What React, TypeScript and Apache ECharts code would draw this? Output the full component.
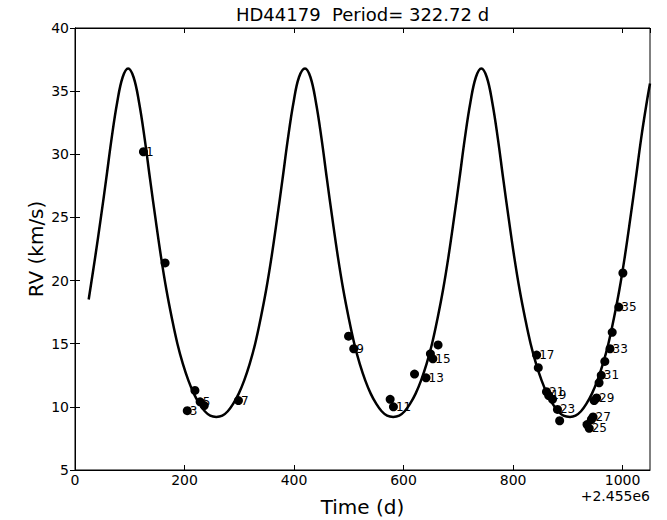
import React, { useEffect, useRef } from "react";
import * as echarts from "echarts";

const chartTitle = "HD44179  Period= 322.72 d";
const xAxisName = "Time (d)";
const yAxisName = "RV (km/s)";
const offsetText = "+2.455e6";

// Observed radial velocities (time offset from 2455000 d, RV in km/s)
const obsTime = [125, 164.5, 205, 219, 228.5, 236, 298.5, 499.5, 509, 575.5, 581.5, 620, 641, 649, 653.5, 663, 843, 846, 865, 872, 861, 885, 881, 935, 939, 943, 946, 948, 952.5, 957, 961, 967.5, 977, 981, 993, 1000.5];
const obsRV = [30.2, 21.4, 9.7, 11.3, 10.4, 10.1, 10.5, 15.6, 14.6, 10.6, 10.0, 12.6, 12.3, 14.2, 13.8, 14.9, 14.1, 13.1, 10.9, 10.6, 11.2, 8.9, 9.8, 8.6, 8.3, 9.0, 9.2, 10.5, 10.7, 11.9, 12.5, 13.6, 14.6, 15.9, 17.9, 20.6];

// Orbit model curve
const curveTime = [25, 37, 47, 57, 67, 77, 87, 97, 107, 117, 127, 137, 147, 157, 167, 177, 187, 197, 207, 217, 227, 237, 247, 258, 269, 279, 289, 299, 309, 319, 329, 339, 349, 359, 369, 379, 389, 399, 409, 420, 430, 440, 450, 460, 470, 480, 490, 500, 510, 520, 530, 540, 550, 560, 570, 581, 592, 602, 612, 622, 632, 642, 652, 662, 672, 682, 692, 702, 712, 722, 732, 742, 752, 762, 772, 782, 792, 802, 812, 822, 832, 842, 852, 862, 872, 882, 892, 904, 914, 924, 934, 944, 954, 964, 974, 984, 994, 1004, 1014, 1024, 1034, 1044, 1050];
const curveRV = [18.5, 21.9, 24.9, 28.05, 31.3, 34.1, 36.1, 36.8, 36.1, 34.1, 31.3, 28.05, 24.9, 21.9, 19.25, 17.0, 15.0, 13.4, 12.1, 11.05, 10.25, 9.65, 9.3, 9.2, 9.3, 9.65, 10.25, 11.05, 12.1, 13.4, 15.0, 17.0, 19.25, 21.9, 24.9, 28.05, 31.3, 34.1, 36.1, 36.8, 36.1, 34.1, 31.3, 28.05, 24.9, 21.9, 19.25, 17.0, 15.0, 13.4, 12.1, 11.05, 10.25, 9.65, 9.3, 9.2, 9.3, 9.65, 10.25, 11.05, 12.1, 13.4, 15.0, 17.0, 19.25, 21.9, 24.9, 28.05, 31.3, 34.1, 36.1, 36.8, 36.1, 34.1, 31.3, 28.05, 24.9, 21.9, 19.25, 17.0, 15.0, 13.4, 12.1, 11.05, 10.25, 9.65, 9.3, 9.2, 9.3, 9.65, 10.25, 11.05, 12.1, 13.4, 15.0, 17.0, 19.25, 21.9, 24.9, 28.05, 31.3, 34.1, 35.6];

const xMin = 0;
const xMax = 1050;
const xStep = 200;
const yMin = 5;
const yMax = 40;
const yStep = 5;

export default function App() {
  const ref = useRef<HTMLDivElement>(null);
  useEffect(() => {
    const chart = echarts.init(ref.current!, null, { renderer: "svg" });
    const font = "DejaVu Sans";
    const gridL = 75, gridR = 17, gridT = 28, gridB = 50;
    const W = 667, H = 520;
    const plotCx = gridL + (W - gridL - gridR) / 2;
    const plotCy = gridT + (H - gridT - gridB) / 2;

    const pointLabel = { position: "right", distance: -2, color: "#000", opacity: 1, fontSize: 12, fontFamily: font, textBorderWidth: 0 };

    const curveData = curveTime.map((t, i) => [t, curveRV[i]]);
    const obsData = obsTime.map((t, i) => ({
      value: [t, obsRV[i]],
      label: { ...pointLabel, show: (i + 1) % 2 === 1, formatter: String(i + 1) },
    }));

    const tickStyle = { inside: true, length: 5, lineStyle: { color: "#000", width: 1 } };
    const lineStyle = { show: true, lineStyle: { color: "#000", width: 1 } };

    chart.setOption({
      animation: false,
      backgroundColor: "#fff",
      color: ["#000"],
      grid: { left: gridL, right: gridR, top: gridT, bottom: gridB, show: true, borderColor: "#000", borderWidth: 1, containLabel: false },
      xAxis: [
        {
          type: "value", min: xMin, max: xMax, interval: xStep, position: "bottom",
          axisLine: lineStyle, axisTick: tickStyle, splitLine: { show: false },
          axisLabel: { color: "#000", fontSize: 14, fontFamily: font, margin: 3, showMaxLabel: false, formatter: (v: number) => String(v) },
        },
        {
          type: "value", min: xMin, max: xMax, interval: xStep, position: "top",
          axisLine: lineStyle, axisTick: tickStyle, splitLine: { show: false },
          axisLabel: { show: false },
        },
      ],
      yAxis: [
        {
          type: "value", min: yMin, max: yMax, interval: yStep, position: "left",
          axisLine: lineStyle, axisTick: tickStyle, splitLine: { show: false },
          axisLabel: { color: "#000", fontSize: 14, fontFamily: font, margin: 6 },
        },
        {
          type: "value", min: yMin, max: yMax, interval: yStep, position: "right",
          axisLine: lineStyle, axisTick: tickStyle, splitLine: { show: false },
          axisLabel: { show: false },
        },
      ],
      series: [
        {
          type: "line", data: curveData, xAxisIndex: 0, yAxisIndex: 0,
          showSymbol: false, smooth: 0.4, silent: true,
          lineStyle: { color: "#000", width: 2.5 }, z: 2,
        },
        {
          type: "scatter", data: obsData, xAxisIndex: 0, yAxisIndex: 0,
          symbol: "circle", symbolSize: 9,
          itemStyle: { color: "#000", opacity: 1 },
          label: pointLabel,
          emphasis: { disabled: true },
          z: 3,
        },
      ],
      graphic: [
        { type: "text", x: plotCx, y: 14, style: { text: chartTitle, fill: "#000", font: `18px "${font}"`, textAlign: "center", textVerticalAlign: "middle" } },
        { type: "text", x: plotCx, y: 507, style: { text: xAxisName, fill: "#000", font: `20px "${font}"`, textAlign: "center", textVerticalAlign: "middle" } },
        { type: "text", x: 36, y: plotCy, rotation: Math.PI / 2, style: { text: yAxisName, fill: "#000", font: `20px "${font}"`, textAlign: "center", textVerticalAlign: "middle" } },
        { type: "text", x: W - gridR, y: 496, style: { text: offsetText, fill: "#000", font: `14px "${font}"`, textAlign: "right", textVerticalAlign: "middle" } },
      ],
    });
    return () => chart.dispose();
  }, []);
  return <div ref={ref} style={{ position: "fixed", left: 0, top: 0, width: 667, height: 520 }} />;
}
